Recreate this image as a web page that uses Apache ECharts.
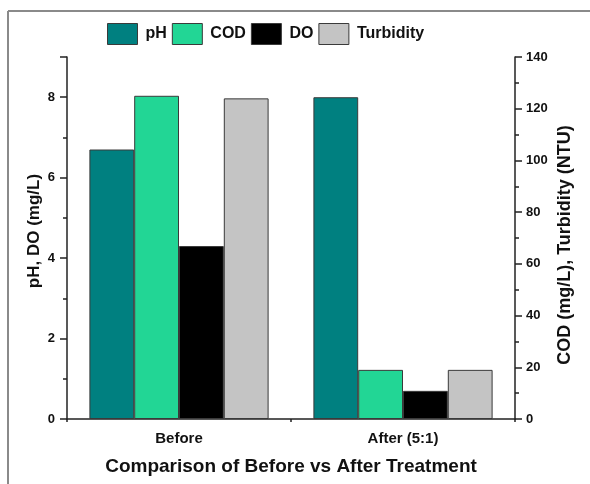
<!DOCTYPE html>
<html>
<head>
<meta charset="utf-8">
<script src="https://cdn.jsdelivr.net/npm/echarts@6/dist/echarts.min.js"></script>
<style>html,body{margin:0;padding:0;background:#fff}#c{width:590px;height:484px}</style>
</head>
<body>
<div id="c"></div>
<script>
const categories = ['Before', 'After (5:1)'];
const phValues = [6.7, 8.0];
const codValues = [125, 19];
const doValues = [4.3, 0.7];
const turbidityValues = [124, 19];
const seriesNames = ['pH', 'COD', 'DO', 'Turbidity'];
const colors = ['#008080', '#22D695', '#000000', '#C4C4C4'];

const chart = echarts.init(document.getElementById('c'));
const font = 'Liberation Sans, Arial, sans-serif';
const axisCol = '#222';
const barStyle = (c) => ({ color: c, borderColor: '#3a3a3a', borderWidth: 1 });

chart.setOption({
  animation: false,
  textStyle: { fontFamily: font },
  graphic: [
    { type: 'line', shape: { x1: 8, y1: 11, x2: 590, y2: 11 }, style: { stroke: '#8a8a8a', lineWidth: 2 } },
    { type: 'line', shape: { x1: 8, y1: 11, x2: 8, y2: 484 }, style: { stroke: '#8a8a8a', lineWidth: 2 } }
  ],
  legend: {
    left: 102, top: 18,
    itemWidth: 30, itemHeight: 21, itemGap: 5,
    icon: 'rect',
    itemStyle: { borderColor: '#3a3a3a', borderWidth: 1 },
    textStyle: { fontFamily: font, fontWeight: 'bold', fontSize: 16, color: '#111', padding: [0, 0, 0, 3] },
    data: seriesNames
  },
  grid: { left: 67, right: 75, top: 57, bottom: 65, containLabel: false, outerBoundsMode: 'none' },
  xAxis: [
    {
      type: 'category', data: categories, position: 'bottom',
      axisLine: { lineStyle: { color: axisCol, width: 1.5 } },
      axisTick: { alignWithLabel: true, length: 6, lineStyle: { color: axisCol, width: 1.5 } },
      axisLabel: { fontFamily: font, fontWeight: 'bold', fontSize: 15, color: '#111', margin: 12 },
      name: 'Comparison of Before vs After Treatment', nameLocation: 'middle', nameGap: 38,
      nameMoveOverlap: false,
      nameTextStyle: { fontFamily: font, fontWeight: 'bold', fontSize: 19, color: '#111' }
    },
    {
      type: 'category', data: categories, position: 'bottom',
      axisLine: { show: false },
      axisTick: { show: true, alignWithLabel: false, length: 3, lineStyle: { color: axisCol, width: 1.5 } },
      axisLabel: { show: false }
    }
  ],
  yAxis: [
    {
      type: 'value', min: 0, max: 9, interval: 2, position: 'left',
      axisLine: { show: true, lineStyle: { color: axisCol, width: 1.5 } },
      axisTick: { show: true, length: 7, lineStyle: { color: axisCol, width: 1.5 } },
      minorTick: { show: true, splitNumber: 2, length: 4, lineStyle: { color: axisCol, width: 1.5 } },
      splitLine: { show: false },
      axisLabel: { fontFamily: font, fontWeight: 'bold', fontSize: 13, color: '#111', margin: 12,
        formatter: v => (v === 9 ? '' : String(v)) },
      name: 'pH, DO (mg/L)', nameLocation: 'middle', nameGap: 24, nameRotate: 90,
      nameMoveOverlap: false,
      nameTextStyle: { fontFamily: font, fontWeight: 'bold', fontSize: 17, color: '#111', padding: [0, 0, 0, 14] }
    },
    {
      type: 'value', min: 0, max: 140, interval: 20, position: 'right',
      axisLine: { show: true, lineStyle: { color: axisCol, width: 1.5 } },
      axisTick: { show: true, length: 7, lineStyle: { color: axisCol, width: 1.5 } },
      minorTick: { show: true, splitNumber: 2, length: 4, lineStyle: { color: axisCol, width: 1.5 } },
      splitLine: { show: false },
      axisLabel: { fontFamily: font, fontWeight: 'bold', fontSize: 13, color: '#111', margin: 11 },
      name: 'COD (mg/L), Turbidity (NTU)', nameLocation: 'middle', nameGap: 41, nameRotate: 90,
      nameMoveOverlap: false,
      nameTextStyle: { fontFamily: font, fontWeight: 'bold', fontSize: 18, color: '#111', padding: [0, 14, 0, 0] }
    }
  ],
  series: [
    { name: seriesNames[0], type: 'bar', yAxisIndex: 0, data: phValues, itemStyle: barStyle(colors[0]), barGap: '0%', barCategoryGap: '20%' },
    { name: seriesNames[1], type: 'bar', yAxisIndex: 1, data: codValues, itemStyle: barStyle(colors[1]), barGap: '0%', barCategoryGap: '20%' },
    { name: seriesNames[2], type: 'bar', yAxisIndex: 0, data: doValues, itemStyle: barStyle(colors[2]), barGap: '0%', barCategoryGap: '20%' },
    { name: seriesNames[3], type: 'bar', yAxisIndex: 1, data: turbidityValues, itemStyle: barStyle(colors[3]), barGap: '0%', barCategoryGap: '20%' }
  ]
});
</script>
</body>
</html>
